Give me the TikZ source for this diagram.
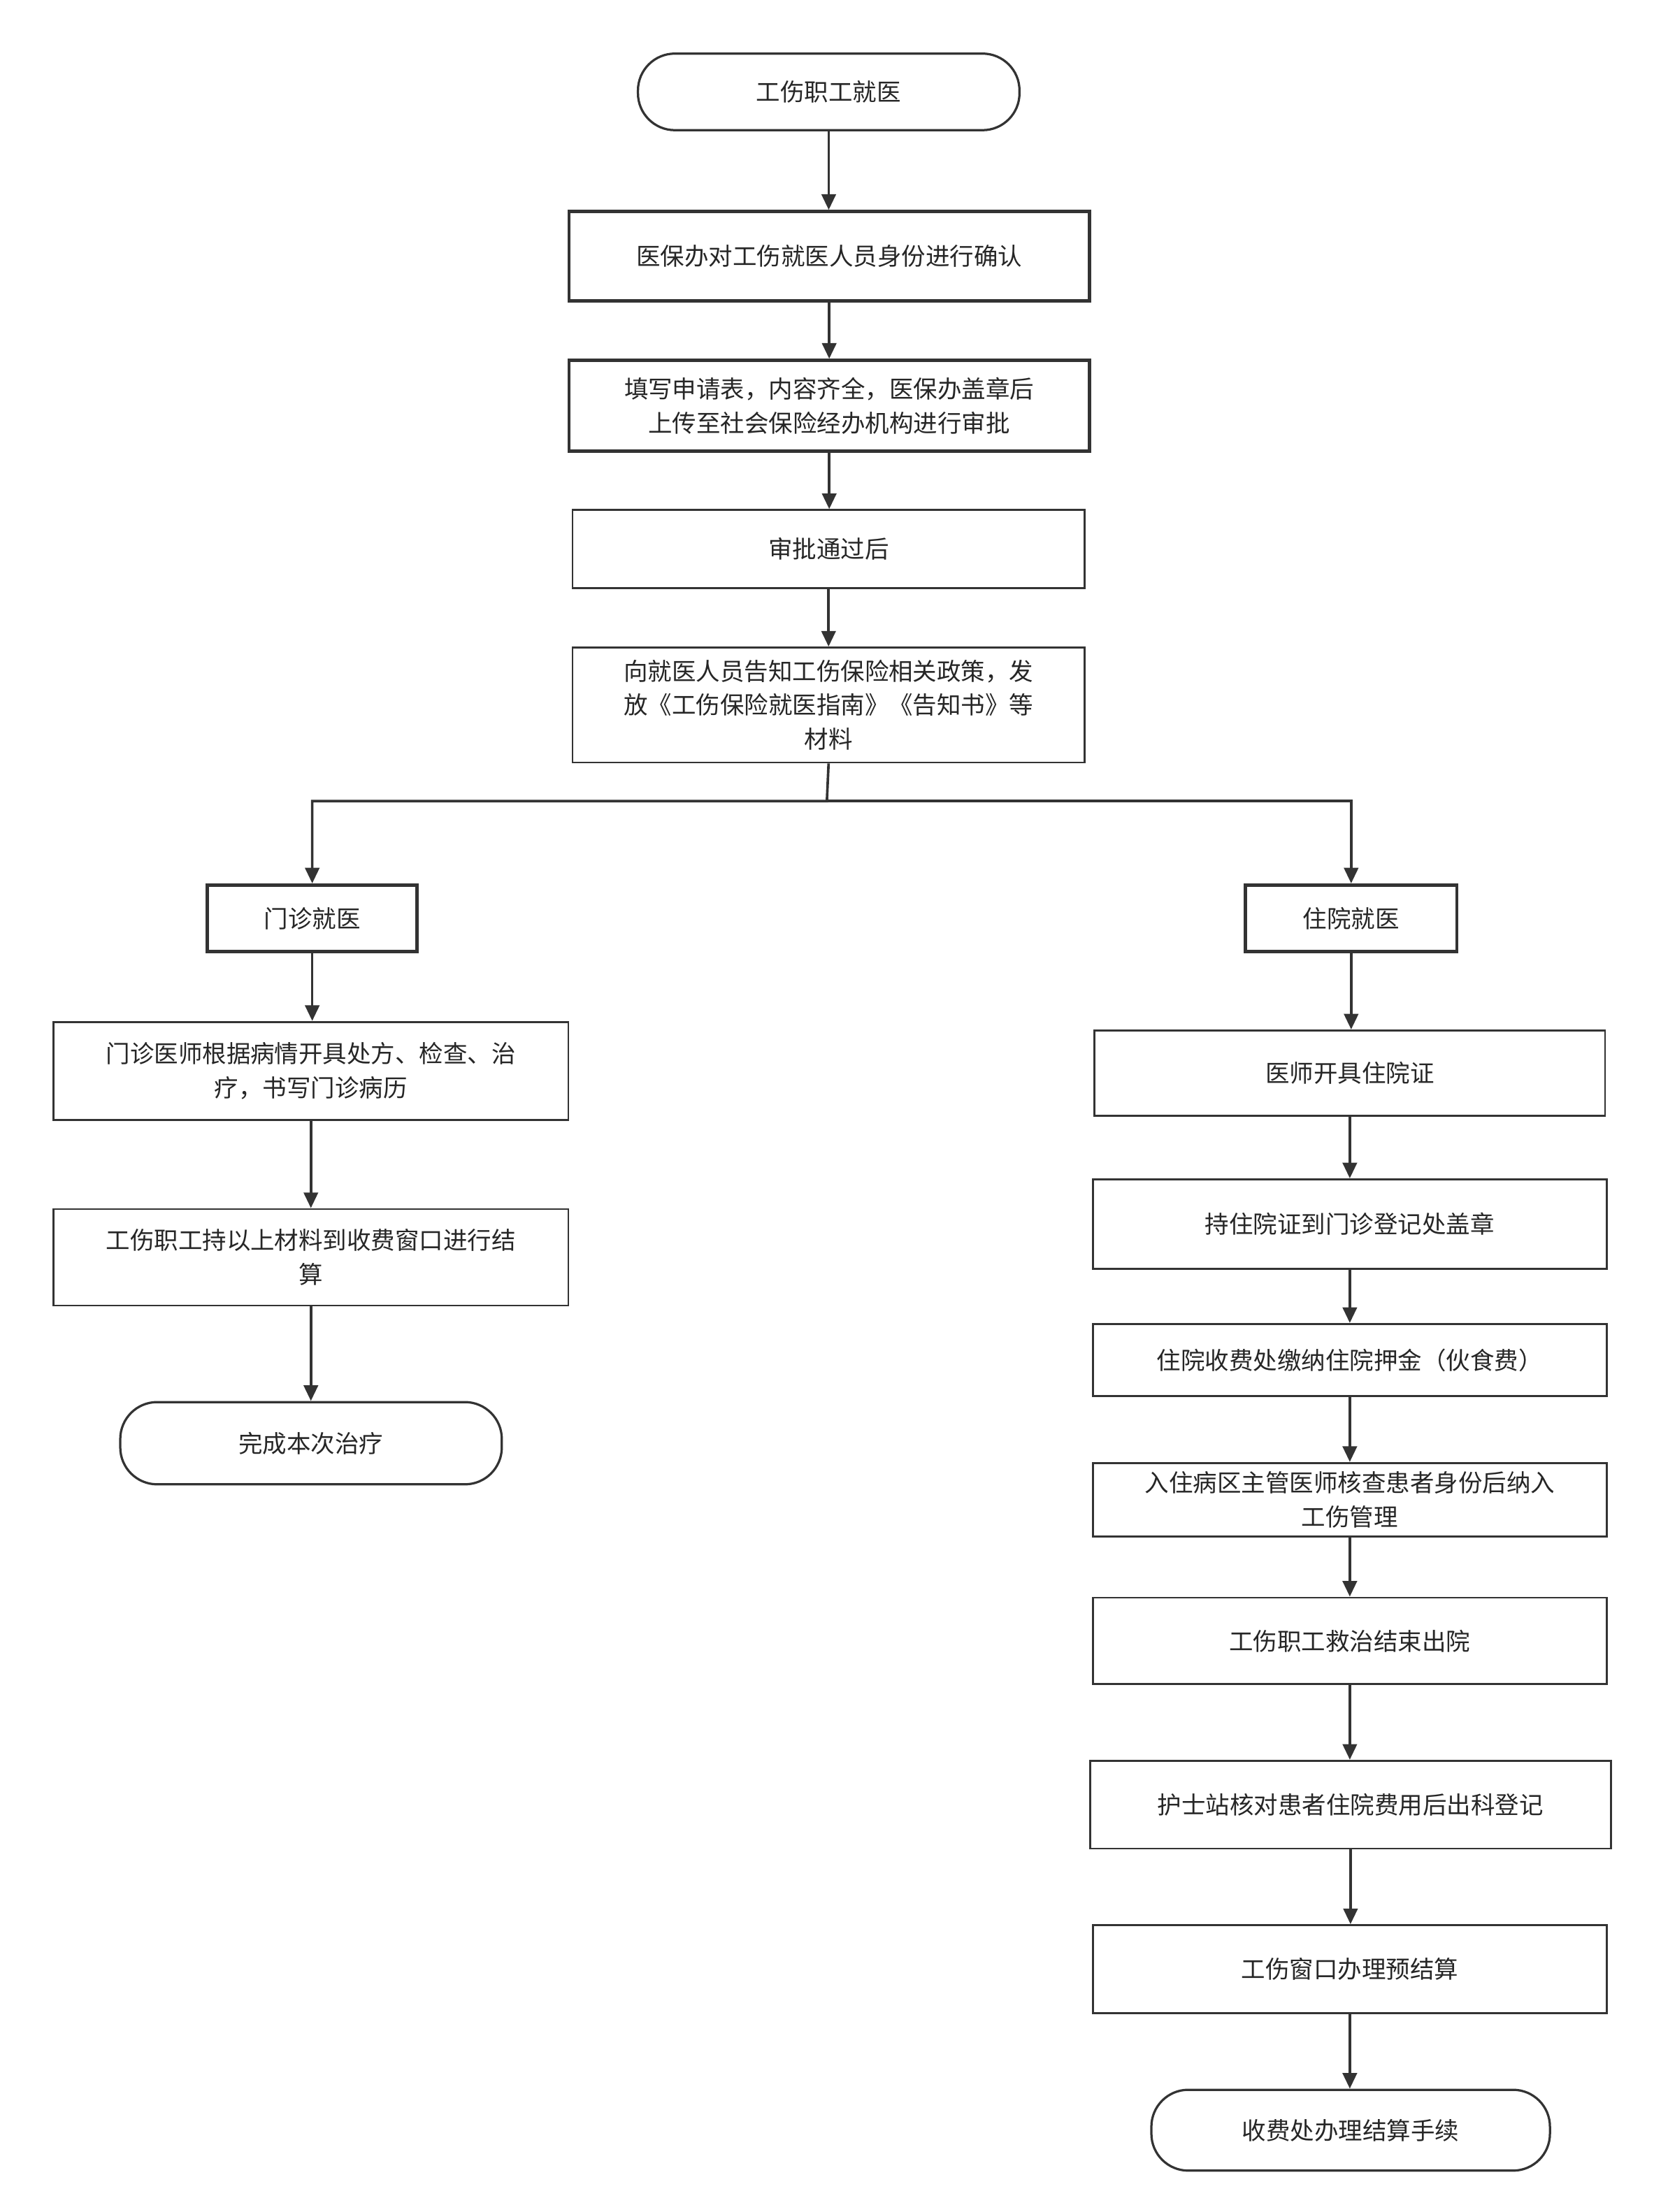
\documentclass[tikz,border=0pt]{standalone}
\usepackage{fontspec}
\newfontfamily\cjk{Noto Sans CJK SC}
\usetikzlibrary{arrows.meta}
\begin{document}
\begin{tikzpicture}[x=1pt,y=-1pt,
  base/.style={draw=black!80,font=\cjk\fontsize{17}{22}\selectfont,text=black!85,align=center,inner sep=0,anchor=north west},
  thin/.style={base,line width=1.4},
  thick/.style={base,line width=2.3},
  pill/.style={base,line width=1.6,rounded corners=26},
  arr/.style={draw=black!80,line width=1.8,-{Triangle[length=11,width=10]}}]
\useasboundingbox (0,0) rectangle (1166,1560);
\newcommand\bx[6]{\node[#1,minimum width=#4-#2,minimum height=#5-#3] (#6) at (#2,#3) {};}
\bx{pill}{449}{37}{718}{91}{n1}
\bx{thick}{400}{148}{767}{211}{n2}
\bx{thick}{400}{253}{767}{317}{n3}
\bx{thin}{403}{359}{764}{414}{n4}
\bx{thin}{403}{456}{764}{537}{n5}
\bx{thick}{145}{623}{293}{670}{n6}
\bx{thick}{877}{623}{1026}{670}{n7}
\bx{thin}{37}{720}{400}{789}{n8}
\bx{thin}{37}{852}{400}{920}{n9}
\bx{pill}{84}{988}{353}{1046}{n10}
\bx{thin}{771}{726}{1131}{786}{n11}
\bx{thin}{770}{831}{1132}{894}{n12}
\bx{thin}{770}{933}{1132}{984}{n13}
\bx{thin}{770}{1031}{1132}{1083}{n14}
\bx{thin}{770}{1126}{1132}{1187}{n15}
\bx{thin}{768}{1241}{1135}{1303}{n16}
\bx{thin}{770}{1357}{1132}{1419}{n17}
\bx{pill}{811}{1473}{1092}{1530}{n18}
\tikzset{lbl/.style={font=\cjk\fontsize{17}{24}\selectfont,text=black!85,align=center}}
\node[lbl] at (n1) {工伤职工就医};
\node[lbl] at (n2) {医保办对工伤就医人员身份进行确认};
\node[lbl] at (n3) {填写申请表，内容齐全，医保办盖章后\\上传至社会保险经办机构进行审批};
\node[lbl] at (n4) {审批通过后};
\node[lbl] at (n5) {向就医人员告知工伤保险相关政策，发\\放《工伤保险就医指南》《告知书》等\\材料};
\node[lbl] at (n6) {门诊就医};
\node[lbl] at (n7) {住院就医};
\node[lbl] at (n8) {门诊医师根据病情开具处方、检查、治\\疗，书写门诊病历};
\node[lbl] at (n9) {工伤职工持以上材料到收费窗口进行结\\算};
\node[lbl] at (n10) {完成本次治疗};
\node[lbl] at (n11) {医师开具住院证};
\node[lbl] at (n12) {持住院证到门诊登记处盖章};
\node[lbl] at (n13) {住院收费处缴纳住院押金（伙食费）};
\node[lbl] at (n14) {入住病区主管医师核查患者身份后纳入\\工伤管理};
\node[lbl] at (n15) {工伤职工救治结束出院};
\node[lbl] at (n16) {护士站核对患者住院费用后出科登记};
\node[lbl] at (n17) {工伤窗口办理预结算};
\node[lbl] at (n18) {收费处办理结算手续};
\foreach \a/\b in {n1/n2,n2/n3,n3/n4,n4/n5,n6/n8,n8/n9,n9/n10,n7/n11,n11/n12,n12/n13,n13/n14,n14/n15,n15/n16,n16/n17,n17/n18}
  \draw[arr] (\a.south) -- (\a.south |- \b.north);
\coordinate (j) at (583,565);
\draw[arr] (n5.south) -- (j) -| (n6.north);
\draw[arr] (j) -| (n7.north);
\end{tikzpicture}
\end{document}
